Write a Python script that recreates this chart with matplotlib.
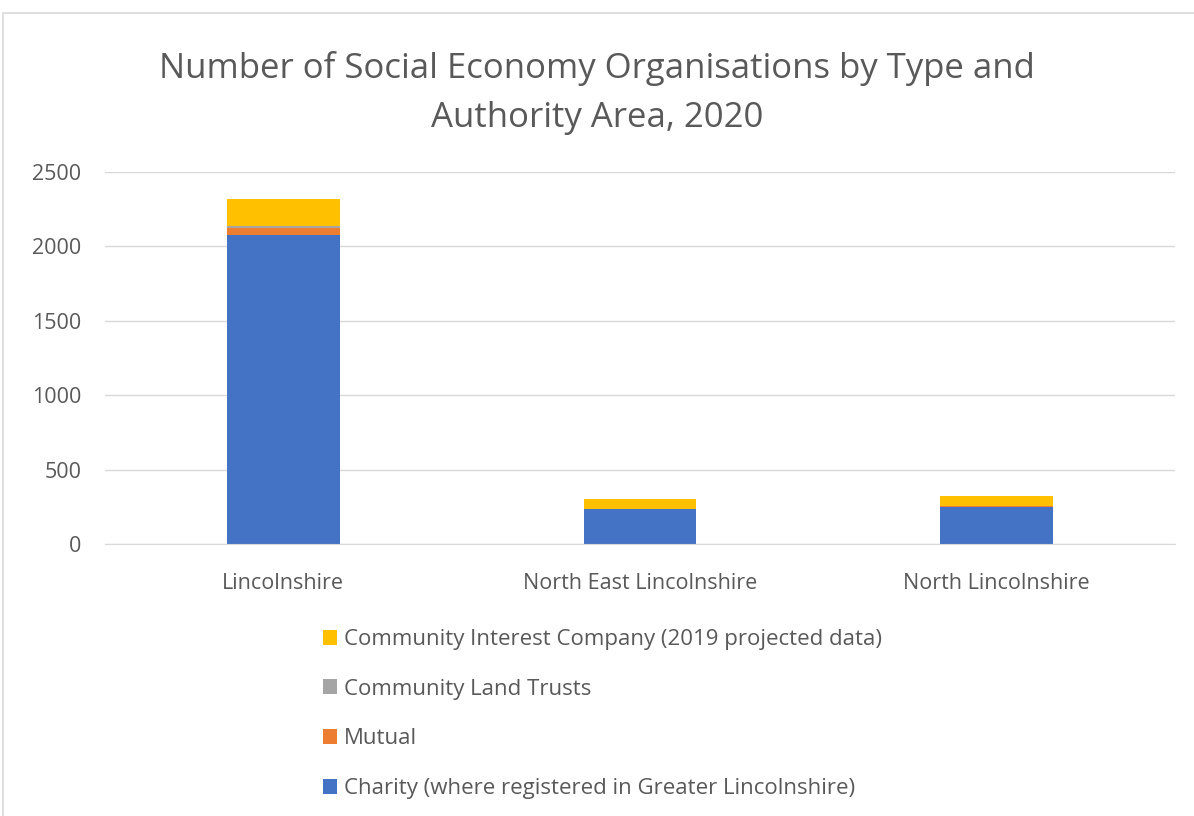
import matplotlib.pyplot as plt
from matplotlib.patches import Patch, Rectangle
import numpy as np

# Organisations per authority area, by type
areas = ["Lincolnshire", "North East Lincolnshire", "North Lincolnshire"]
charity = [2079, 234, 252]
mutual = [47, 4, 5]
land_trusts = [13, 0, 1]
cic = [177, 62, 62]

series = [
    ("Charity (where registered in Greater Lincolnshire)", charity, "#4472C4"),
    ("Mutual", mutual, "#ED7D31"),
    ("Community Land Trusts", land_trusts, "#A5A5A5"),
    ("Community Interest Company (2019 projected data)", cic, "#FFC000"),
]

plt.rcParams['font.family'] = ['Open Sans', 'DejaVu Sans']
text_col = "#595959"

fig = plt.figure(figsize=(11.94, 8.16), dpi=100)
fig.patches.append(Rectangle((3 / 1194, -0.1), 1.2, 1.1 - 13 / 816, transform=fig.transFigure,
                             fill=False, edgecolor="#d9d9d9", lw=1.2))

ax = fig.add_axes([105 / 1194, 1 - 544 / 816, 1070 / 1194, 372 / 816])
x = np.arange(len(areas))
bottom = np.zeros(len(areas))
handles = []
for name, vals, col in series:
    ax.bar(x, vals, width=0.315, bottom=bottom, color=col)
    bottom += np.array(vals)
    handles.append(Patch(facecolor=col, label=name))

ax.set_xlim(-0.5, 2.5)
ax.set_ylim(0, 2500)
ax.set_yticks(range(0, 2501, 500))
ax.yaxis.grid(True, color="#d9d9d9", lw=1)
ax.set_axisbelow(True)
for s in ["top", "right", "left"]:
    ax.spines[s].set_visible(False)
ax.spines["bottom"].set_color("#d9d9d9")
ax.tick_params(length=0, labelsize=15.5, colors=text_col)
ax.tick_params(axis="x", pad=21)
ax.tick_params(axis="y", pad=17)
ax.set_xticks(x)
ax.set_xticklabels(areas)

fig.text(0.5, 1 - 93 / 816, "Number of Social Economy Organisations by Type and\nAuthority Area, 2020",
         ha="center", va="center", fontsize=25, color=text_col, linespacing=1.55)

leg = fig.legend(handles=handles[::-1], loc="upper left", bbox_to_anchor=(303 / 1194, 1 - 609 / 816),
                 frameon=False, fontsize=16, handlelength=0.65, handleheight=0.65,
                 handletextpad=0.3, labelspacing=1.29, labelcolor=text_col)

fig.savefig("out.png", dpi=100)
